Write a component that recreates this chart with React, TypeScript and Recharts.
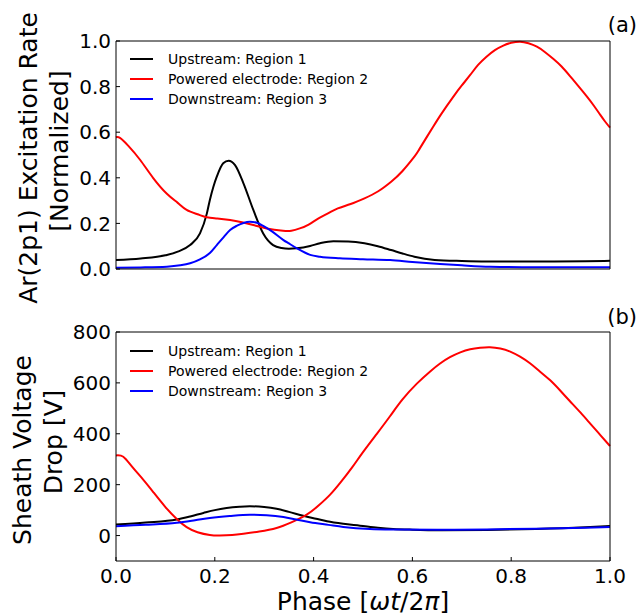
import React from 'react';
import { LineChart, Line, XAxis, YAxis, Legend } from 'recharts';

const FONT = '"DejaVu Sans", sans-serif';

const phaseTicks = [0, 0.2, 0.4, 0.6, 0.8, 1.0];
const excTicks = [0, 0.2, 0.4, 0.6, 0.8, 1.0];
const voltTicks = [0, 200, 400, 600, 800];

const seriesNames = ['Upstream: Region 1', 'Powered electrode: Region 2', 'Downstream: Region 3'];
const seriesColors = ['#000000', '#ff0000', '#0000ff'];
const curveTypes = ['monotone', 'natural', 'monotone'];

// (a) Ar(2p1) excitation rate, normalized
const excUpPhase = [0, 0.05, 0.1, 0.125, 0.15, 0.17, 0.184, 0.19, 0.197, 0.204, 0.217, 0.228, 0.241, 0.258, 0.278, 0.298, 0.318, 0.335, 0.35, 0.366, 0.393, 0.413, 0.44, 0.47, 0.503, 0.53, 0.557, 0.58, 0.604, 0.645, 0.7, 0.75, 0.85, 0.95, 1.0];
const excUpRate = [0.039, 0.046, 0.06, 0.076, 0.105, 0.156, 0.244, 0.303, 0.36, 0.405, 0.464, 0.475, 0.456, 0.376, 0.259, 0.156, 0.105, 0.092, 0.089, 0.091, 0.101, 0.113, 0.122, 0.121, 0.113, 0.1, 0.083, 0.068, 0.054, 0.04, 0.035, 0.033, 0.033, 0.034, 0.036];

const excPwPhase = [0, 0.008, 0.025, 0.049, 0.075, 0.103, 0.125, 0.143, 0.165, 0.184, 0.205, 0.231, 0.255, 0.278, 0.305, 0.338, 0.355, 0.372, 0.39, 0.41, 0.43, 0.449, 0.475, 0.503, 0.53, 0.557, 0.58, 0.604, 0.615, 0.642, 0.66, 0.683, 0.7, 0.717, 0.733, 0.75, 0.767, 0.784, 0.8, 0.818, 0.835, 0.852, 0.868, 0.885, 0.902, 0.919, 0.936, 0.953, 0.967, 0.98, 0.99, 1.0];
const excPwRate = [0.578, 0.575, 0.54, 0.478, 0.4, 0.33, 0.29, 0.259, 0.24, 0.227, 0.222, 0.215, 0.205, 0.193, 0.178, 0.168, 0.168, 0.178, 0.195, 0.222, 0.245, 0.266, 0.285, 0.31, 0.34, 0.383, 0.43, 0.493, 0.529, 0.624, 0.685, 0.756, 0.805, 0.851, 0.895, 0.931, 0.96, 0.98, 0.992, 0.997, 0.99, 0.975, 0.952, 0.922, 0.888, 0.846, 0.802, 0.757, 0.717, 0.677, 0.647, 0.62];

const excDnPhase = [0, 0.05, 0.103, 0.13, 0.15, 0.17, 0.19, 0.204, 0.218, 0.231, 0.245, 0.258, 0.271, 0.285, 0.298, 0.315, 0.339, 0.35, 0.366, 0.393, 0.413, 0.453, 0.5, 0.555, 0.6, 0.656, 0.7, 0.757, 0.85, 1.0];
const excDnRate = [0.006, 0.007, 0.01, 0.016, 0.025, 0.042, 0.07, 0.105, 0.14, 0.171, 0.19, 0.202, 0.207, 0.203, 0.189, 0.166, 0.127, 0.112, 0.091, 0.062, 0.054, 0.047, 0.043, 0.039, 0.031, 0.022, 0.016, 0.01, 0.008, 0.008];

// (b) Sheath voltage drop [V]
const vUpPhase = [0, 0.06, 0.123, 0.15, 0.177, 0.2, 0.224, 0.25, 0.271, 0.3, 0.325, 0.35, 0.379, 0.405, 0.427, 0.46, 0.494, 0.53, 0.561, 0.6, 0.66, 0.75, 0.85, 0.95, 1.0];
const vUpDrop = [43, 51, 63, 75, 89, 100, 108, 113, 115, 112, 105, 93, 78, 66, 56, 46, 39, 31, 26, 23, 21, 22, 26, 33, 38];

const vPwPhase = [0, 0.01, 0.02, 0.035, 0.055, 0.075, 0.1, 0.123, 0.143, 0.165, 0.19, 0.21, 0.235, 0.258, 0.29, 0.325, 0.355, 0.386, 0.41, 0.433, 0.455, 0.478, 0.5, 0.528, 0.555, 0.58, 0.609, 0.636, 0.656, 0.676, 0.697, 0.717, 0.737, 0.757, 0.778, 0.798, 0.818, 0.838, 0.858, 0.879, 0.9, 0.919, 0.94, 0.96, 0.98, 1.0];
const vPwDrop = [315, 314, 300, 265, 220, 172, 112, 65, 33, 13, 2, 0, 2, 7, 16, 30, 52, 82, 118, 160, 210, 268, 328, 400, 470, 535, 597, 645, 676, 701, 720, 732, 738, 740, 735, 723, 703, 677, 645, 610, 568, 528, 484, 440, 396, 352];

const vDnPhase = [0, 0.06, 0.123, 0.16, 0.19, 0.23, 0.271, 0.305, 0.339, 0.365, 0.393, 0.43, 0.46, 0.514, 0.561, 0.65, 0.75, 0.85, 0.95, 1.0];
const vDnDrop = [37, 42, 50, 60, 69, 77, 82, 80, 73, 63, 52, 42, 34, 26, 24, 23, 24, 27, 31, 34];

const zip = (xs: number[], ys: number[]) => xs.map((x, i) => ({ x, y: ys[i] }));

const excSeries = [zip(excUpPhase, excUpRate), zip(excPwPhase, excPwRate), zip(excDnPhase, excDnRate)];
const voltSeries = [zip(vUpPhase, vUpDrop), zip(vPwPhase, vPwDrop), zip(vDnPhase, vDnDrop)];

const LegendBox = (props: any) => {
  const payload = [...(props.payload || [])].sort(
    (a: any, b: any) => seriesNames.indexOf(a.value) - seriesNames.indexOf(b.value)
  );
  return (
    <div style={{ fontFamily: FONT, fontSize: 14, color: '#000', lineHeight: '20px' }}>
      {payload.map((p: any) => (
        <div key={p.value} style={{ display: 'flex', alignItems: 'center', height: 20 }}>
          <div style={{ width: 23, height: 2, background: p.color, marginRight: 15 }} />
          <span style={{ whiteSpace: 'nowrap' }}>{p.value}</span>
        </div>
      ))}
    </div>
  );
};

const RotTitle = ({ lines, cys, xs }: { lines: string[]; cys: number[]; xs: number[] }) => (
  <g>
    {lines.map((t, i) => (
      <text key={t} x={xs[i]} y={cys[i]} transform={`rotate(-90, ${xs[i]}, ${cys[i]})`} textAnchor="middle"
        fontFamily={FONT} fontSize={25} fill="#000">{t}</text>
    ))}
  </g>
);

const PanelTag = ({ text, ty }: { text: string; ty: number }) => (
  <text x={637} y={ty} textAnchor="end" fontFamily={FONT} fontSize={21} fill="#000">{text}</text>
);

const XTitle = () => (
  <text x={363} y={320} textAnchor="middle" fontFamily={FONT} fontSize={25} fill="#000">
    Phase [<tspan fontStyle="italic">ωt</tspan>/2<tspan fontStyle="italic">π</tspan>]
  </text>
);

const tickStyle = { fill: '#000', fontSize: 20, fontFamily: FONT };
const axisStroke = { stroke: '#000', strokeWidth: 1 };

export default function App() {
  return (
    <div style={{ position: 'absolute', left: 0, top: 0, width: 638, height: 615, background: '#fff' }}>
      <div style={{ position: 'absolute', left: 0, top: 290 }}>
        <LineChart width={638} height={325} margin={{ top: 41, right: 27, bottom: 24, left: 56 }}>
          <XAxis xAxisId="b" type="number" dataKey="x" domain={[0, 1]} ticks={phaseTicks}
            tickFormatter={(v: number) => v.toFixed(1)} tick={tickStyle}
            tickSize={-4} tickMargin={12} height={30} axisLine={axisStroke} tickLine={axisStroke}
            label={<XTitle />} />
          <XAxis xAxisId="t" orientation="top" type="number" dataKey="x" domain={[0, 1]} ticks={phaseTicks} tick={false}
            tickSize={-4} height={1} axisLine={axisStroke} tickLine={axisStroke}
            label={<PanelTag text="(b)" ty={34} />} />
          <YAxis yAxisId="l" type="number" domain={[-100, 800]} ticks={voltTicks}
            width={60} tickSize={-4} tickMargin={9} tick={tickStyle} axisLine={axisStroke} tickLine={axisStroke}
            label={<RotTitle lines={['Sheath Voltage', 'Drop [V]']} cys={[160, 152]} xs={[31, 62]} />} />
          <YAxis yAxisId="r" orientation="right" type="number" domain={[-100, 800]} ticks={voltTicks} tick={false}
            width={1} tickSize={-4} axisLine={axisStroke} tickLine={axisStroke} />
          <Legend layout="vertical" align="center" verticalAlign="middle" content={<LegendBox />}
            wrapperStyle={{ top: 51, left: 130, right: 'auto', bottom: 'auto', width: 'auto', height: 'auto' }} />
          {voltSeries.map((d, i) => (
            <Line key={i} xAxisId="b" yAxisId="l" data={d} dataKey="y" name={seriesNames[i]} stroke={seriesColors[i]}
              strokeWidth={2} dot={false} activeDot={false} type={curveTypes[i] as any} isAnimationActive={false} />
          ))}
        </LineChart>
      </div>
      <div style={{ position: 'absolute', left: 0, top: 0 }}>
        <LineChart width={638} height={320} margin={{ top: 40, right: 27, bottom: 50, left: 56 }}>
          <XAxis xAxisId="b" type="number" dataKey="x" domain={[0, 1]} ticks={phaseTicks} tick={false}
            tickSize={-4} height={1} axisLine={axisStroke} tickLine={axisStroke} />
          <XAxis xAxisId="t" orientation="top" type="number" dataKey="x" domain={[0, 1]} ticks={phaseTicks} tick={false}
            tickSize={-4} height={1} axisLine={axisStroke} tickLine={axisStroke}
            label={<PanelTag text="(a)" ty={32} />} />
          <YAxis yAxisId="l" type="number" domain={[0, 1]} ticks={excTicks} tickFormatter={(v: number) => v.toFixed(1)}
            width={60} tickSize={-4} tickMargin={9} tick={tickStyle} axisLine={axisStroke} tickLine={axisStroke}
            label={<RotTitle lines={['Ar(2p1) Excitation Rate', '[Normalized]']} cys={[158, 151]} xs={[37, 68]} />} />
          <YAxis yAxisId="r" orientation="right" type="number" domain={[0, 1]} ticks={excTicks} tick={false}
            width={1} tickSize={-4} axisLine={axisStroke} tickLine={axisStroke} />
          <Legend layout="vertical" align="center" verticalAlign="middle" content={<LegendBox />}
            wrapperStyle={{ top: 49, left: 130, right: 'auto', bottom: 'auto', width: 'auto', height: 'auto' }} />
          {excSeries.map((d, i) => (
            <Line key={i} xAxisId="b" yAxisId="l" data={d} dataKey="y" name={seriesNames[i]} stroke={seriesColors[i]}
              strokeWidth={2} dot={false} activeDot={false} type={curveTypes[i] as any} isAnimationActive={false} />
          ))}
        </LineChart>
      </div>
    </div>
  );
}
